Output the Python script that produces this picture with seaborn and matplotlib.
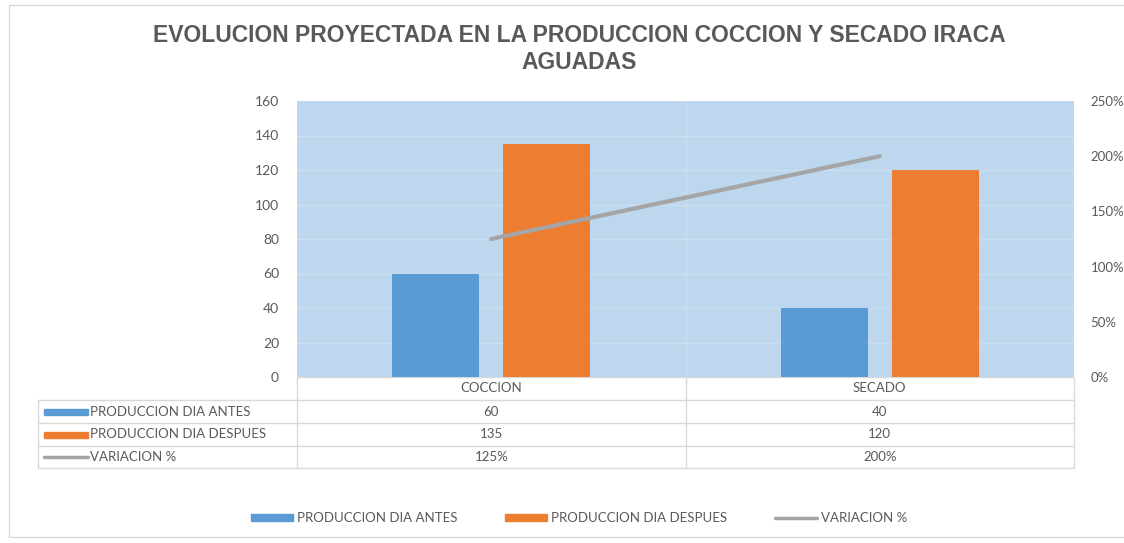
# ----------------------------------------------------------------------------------------
# ----- libraries
# ----------------------------------------------------------------------------------------
import matplotlib
matplotlib.use("Agg")
import matplotlib.pyplot as plt
from matplotlib.patches import Rectangle, Patch
from matplotlib.lines import Line2D
import numpy as np
import pandas as pd
import seaborn as sns

# ----------------------------------------------------------------------------------------
# ----- data
# ----------------------------------------------------------------------------------------
titulo = "EVOLUCION PROYECTADA EN LA PRODUCCION COCCION Y SECADO IRACA\nAGUADAS"
categorias = ["COCCION", "SECADO"]
series = ["PRODUCCION DIA ANTES", "PRODUCCION DIA DESPUES"]
antes = [60, 40]
despues = [135, 120]
variacion_nombre = "VARIACION %"
variacion = [1.25, 2.00]
y_ticks = [0, 20, 40, 60, 80, 100, 120, 140, 160]
y2_ticks = [0, 0.5, 1.0, 1.5, 2.0, 2.5]

# ----------------------------------------------------------------------------------------
# ----- style
# ----------------------------------------------------------------------------------------
AZUL = "#5B9BD5"
NARANJA = "#ED7D31"
GRIS = "#A5A5A5"
TEXTO = "#595959"
FONDO = "#BDD7EE"
LINEA = "#D9D9D9"
W, H = 1124, 543

sns.set_theme(style="white")
plt.rcParams["font.family"] = ["Lato", "DejaVu Sans"]

df = pd.DataFrame({
    "categoria": categorias * 2,
    "serie": [series[0]] * len(categorias) + [series[1]] * len(categorias),
    "valor": antes + despues,
})

fig = plt.figure(figsize=(W / 100, H / 100), dpi=100)

# overlay in pixel coords for frame / table
bg = fig.add_axes([0, 0, 1, 1], zorder=0)
bg.set_xlim(0, W)
bg.set_ylim(H, 0)
bg.axis("off")

# plot area (pixels): x 297..1074, y 101..377
px0, px1, py0, py1 = 297, 1074, 101, 377
ax = fig.add_axes([px0 / W, 1 - py1 / H, (px1 - px0) / W, (py1 - py0) / H], zorder=2)
ax.set_facecolor(FONDO)

sns.barplot(data=df, x="categoria", y="valor", hue="serie",
            palette=[AZUL, NARANJA], width=0.572, gap=0.22,
            saturation=1, legend=False, ax=ax, zorder=3, linewidth=0)
ax.set_ylim(0, 160)
ax.set_xlim(-0.5, len(categorias) - 0.5)
ax.set_yticks(y_ticks)
ax.set_yticklabels([str(v) for v in y_ticks], color=TEXTO, fontsize=10)
ax.set_xticks([])
ax.set_xlabel("")
ax.set_ylabel("")
ax.tick_params(axis="y", length=0, pad=13)
for v in y_ticks[1:-1]:
    ax.axhline(v, color="#CCDFF1", lw=1, zorder=1)
for i in range(len(categorias) - 1):
    ax.axvline(i + 0.5, color="#CCDFF1", lw=1, zorder=1)
for s in ax.spines.values():
    s.set_visible(False)

ax2 = ax.twinx()
sns.lineplot(x=np.arange(len(categorias)), y=variacion, color=GRIS, lw=3,
             ax=ax2, zorder=4)
ax2.set_ylim(0, 2.5)
ax2.set_yticks(y2_ticks)
ax2.set_yticklabels([f"{int(round(v * 100))}%" for v in y2_ticks], color=TEXTO, fontsize=9.5)
ax2.tick_params(axis="y", length=0, pad=12)
ax2.set_ylabel("")
for s in ax2.spines.values():
    s.set_visible(False)

# ----------------------------------------------------------------------------------------
# ----- frame, title
# ----------------------------------------------------------------------------------------
bg.add_patch(Rectangle((9, 5), W, 532, fill=False, ec=LINEA, lw=1))
fig.text(579 / W, 1 - 49 / H, titulo, ha="center", va="center",
         fontsize=16.5, fontweight="bold", color=TEXTO, linespacing=1.2,
         family=["Liberation Sans", "DejaVu Sans"])

# ----------------------------------------------------------------------------------------
# ----- data table
# ----------------------------------------------------------------------------------------
tx0 = 38
rows = [377, 400, 423, 446, 468]
col_x = [px0, (px0 + px1) / 2, px1]
bg.plot([px0, px1], [rows[0], rows[0]], color=LINEA, lw=1)
for y in rows[1:]:
    bg.plot([tx0, px1], [y, y], color=LINEA, lw=1)
bg.plot([tx0, tx0], [rows[1], rows[-1]], color=LINEA, lw=1)
for x in col_x:
    bg.plot([x, x], [rows[0], rows[-1]], color=LINEA, lw=1)

cell_w = (px1 - px0) / len(categorias)
centers = [px0 + cell_w * (i + 0.5) for i in range(len(categorias))]
for c, name in zip(centers, categorias):
    bg.text(c, (rows[0] + rows[1]) / 2, name, ha="center", va="center",
            fontsize=9.5, color=TEXTO)

tabla = [
    (series[0], [str(v) for v in antes], AZUL, "bar"),
    (series[1], [str(v) for v in despues], NARANJA, "bar"),
    (variacion_nombre, [f"{int(round(v * 100))}%" for v in variacion], GRIS, "line"),
]
for r, (label, vals, col, kind) in enumerate(tabla):
    yc = (rows[r + 1] + rows[r + 2]) / 2
    if kind == "bar":
        bg.add_patch(Rectangle((44, yc - 3), 44, 6, color=col))
    else:
        bg.plot([44, 88], [yc, yc], color=col, lw=2.5)
    bg.text(90, yc, label, ha="left", va="center", fontsize=9.5, color=TEXTO)
    for c, v in zip(centers, vals):
        bg.text(c, yc, v, ha="center", va="center", fontsize=9.5, color=TEXTO)

# ----------------------------------------------------------------------------------------
# ----- legend
# ----------------------------------------------------------------------------------------
handles = [Patch(color=AZUL), Patch(color=NARANJA), Line2D([], [], color=GRIS, lw=2.5)]
fig.legend(handles, series + [variacion_nombre], loc="center",
           bbox_to_anchor=(579 / W, 1 - 518 / H), ncol=3, frameon=False,
           fontsize=9.5, labelcolor=TEXTO, handlelength=3.2, handleheight=0.45,
           handletextpad=0.3, columnspacing=3.6)

fig.savefig("out.png", dpi=100)
